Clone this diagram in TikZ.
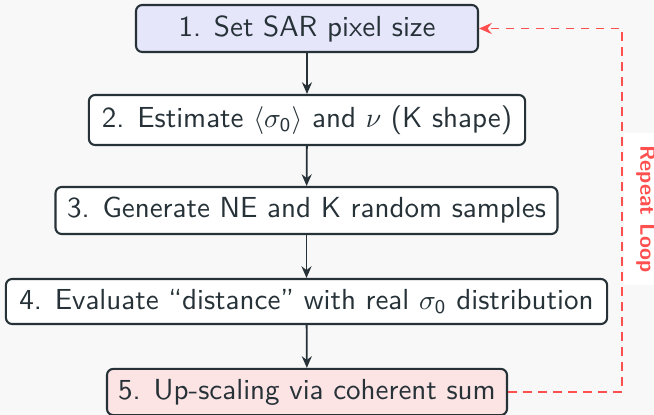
\documentclass[tikz,border=0pt]{standalone}
\usetikzlibrary{arrows.meta}
\definecolor{bg}{HTML}{F8F8F8}
\definecolor{ink}{HTML}{263238}
\definecolor{lav}{HTML}{E6E6FA}
\definecolor{rose}{HTML}{FDE4E4}
\definecolor{loopred}{HTML}{FF4F4F}
\tikzset{
  stepbox/.style={draw=ink, line width=0.75pt, rounded corners=2.2pt, fill=white,
    text=ink, inner sep=0pt, align=center},
  flow/.style={draw=ink, line width=0.65pt, -{Stealth[length=4.2pt,width=3.6pt]}},
  loopline/.style={draw=loopred, line width=0.7pt, dash pattern=on 3.1pt off 2.3pt,
    -{Stealth[length=4.6pt,width=4pt]}},
}
\begin{document}
\begin{tikzpicture}[x=0.36pt,y=-0.36pt, font=\sffamily\fontsize{10.45}{12.5}\selectfont]
\fill[bg] (0,0) rectangle (654,415);
\useasboundingbox (0,0) rectangle (654,415);
\node[stepbox, fill=lav, minimum width=123.1pt, minimum height=16.9pt] (n1) at (307,28.5) {1. Set SAR pixel size};
\node[stepbox, minimum width=157pt, minimum height=18pt] (n2) at (307,120) {2. Estimate $\langle\sigma_{\mathsf{0}}\rangle$ and $\nu$ (K shape)};
\node[stepbox, minimum width=180.7pt, minimum height=16.9pt] (n3) at (306.5,210.5) {3. Generate NE and K random samples};
\node[stepbox, minimum width=216.4pt, minimum height=16.2pt] (n4) at (306.5,301.5) {4. Evaluate ``distance'' with real $\sigma_{\mathsf{0}}$ distribution};
\node[stepbox, fill=rose, minimum width=144pt, minimum height=16.6pt] (n5) at (307,392) {5. Up-scaling via coherent sum};
\draw[flow] (n1) -- (n2);
\draw[flow] (n2) -- (n3);
\draw[flow] (n3) -- (n4);
\draw[flow] (n4) -- (n5);
\node[rotate=-90, anchor=south, fill=white, text=loopred, inner xsep=4.5pt, inner ysep=4.5pt,
  font=\sffamily\bfseries\fontsize{7.8}{9}\selectfont] (lbl) at (623,209) {Repeat Loop};
\coordinate (turn) at (622,200);
\draw[loopline] (n5.east) -| (turn) |- (n1.east);
\end{tikzpicture}
\end{document}
